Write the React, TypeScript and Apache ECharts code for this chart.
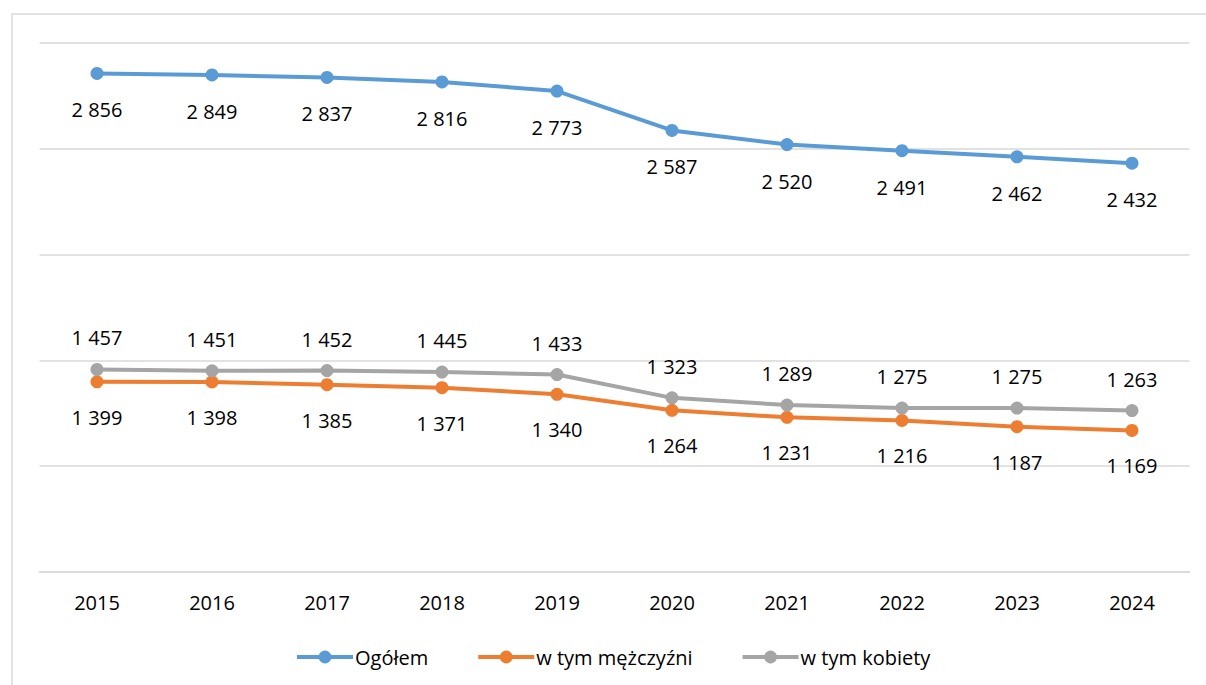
import React, { useEffect, useRef } from "react";
import * as echarts from "echarts";

const years = ["2015", "2016", "2017", "2018", "2019", "2020", "2021", "2022", "2023", "2024"];
const ogolem = [2856, 2849, 2837, 2816, 2773, 2587, 2520, 2491, 2462, 2432];
const mezczyzni = [1399, 1398, 1385, 1371, 1340, 1264, 1231, 1216, 1187, 1169];
const kobiety = [1457, 1451, 1452, 1445, 1433, 1323, 1289, 1275, 1275, 1263];

const FONT = "'Open Sans', 'Noto Sans', sans-serif";
const fmt = (v: number) => {
  const s = String(v);
  return s.length > 3 ? s.slice(0, s.length - 3) + " " + s.slice(-3) : s;
};

export default function App() {
  const ref = useRef<HTMLDivElement>(null);
  useEffect(() => {
    const chart = echarts.init(ref.current!, null, { renderer: "svg" });
    const mkSeries = (name: string, data: number[], color: string, pos: "top" | "bottom", dist: number) => ({
      name,
      type: "line",
      data,
      symbol: "circle",
      symbolSize: 13,
      lineStyle: { color, width: 4 },
      itemStyle: { color },
      label: {
        show: true,
        position: pos,
        distance: dist,
        color: "#000",
        fontSize: 20,
        fontFamily: FONT,
        formatter: (p: any) => fmt(p.value),
      },
    });
    chart.setOption({
      animation: false,
      backgroundColor: "#fff",
      graphic: [
        {
          type: "rect",
          shape: { x: 12, y: 14, width: 1200, height: 690 },
          style: { fill: "none", stroke: "#d9d9d9", lineWidth: 1.5 },
          silent: true,
        },
      ],
      grid: { left: 39.5, right: 16.5, top: 43, bottom: 113, containLabel: false },
      xAxis: {
        type: "category",
        data: years,
        boundaryGap: true,
        axisLine: { lineStyle: { color: "#d9d9d9", width: 1.5 } },
        axisTick: { show: false },
        axisLabel: { color: "#000", fontSize: 20, fontFamily: FONT, margin: 20 },
      },
      yAxis: {
        type: "value",
        min: 500,
        max: 3000,
        interval: 500,
        axisLabel: { show: false },
        axisLine: { show: false },
        axisTick: { show: false },
        splitLine: { lineStyle: { color: "#d9d9d9", width: 1.5 } },
      },
      legend: {
        bottom: 13,
        left: 290,
        itemGap: 48,
        itemWidth: 56,
        itemHeight: 16,
        lineStyle: { width: 4 },
        textStyle: { color: "#000", fontSize: 20, fontFamily: FONT, padding: [0, 0, 0, -3] },
        data: ["Ogółem", "w tym mężczyźni", "w tym kobiety"],
      },
      series: [
        mkSeries("Ogółem", ogolem, "#5B9BD5", "bottom", 20),
        mkSeries("w tym mężczyźni", mezczyzni, "#ED7D31", "bottom", 19),
        mkSeries("w tym kobiety", kobiety, "#A5A5A5", "top", 15),
      ],
    });
    return () => chart.dispose();
  }, []);
  return (
    <div
      ref={ref}
      style={{ position: "fixed", left: 0, top: 0, width: 1206, height: 685 }}
    />
  );
}
